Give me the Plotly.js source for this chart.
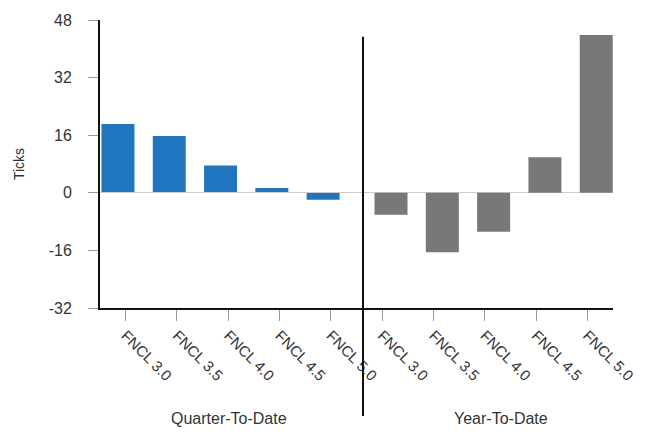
<!DOCTYPE html>
<html><head><meta charset="utf-8">
<script src="https://cdn.plot.ly/plotly-3.0.1.min.js"></script>
<style>html,body{margin:0;padding:0;background:#fff}#chart{width:650px;height:432px}</style>
</head><body><div id="chart"></div>
<script>
const bonds = ['FNCL 3.0', 'FNCL 3.5', 'FNCL 4.0', 'FNCL 4.5', 'FNCL 5.0'];
const qtdValues = [19.1, 15.8, 7.6, 1.3, -1.9];
const ytdValues = [-6.1, -16.5, -10.8, 9.9, 43.8];
const groupLabels = ['Quarter-To-Date', 'Year-To-Date'];
const yTicks = [-32, -16, 0, 16, 32, 48];
const yTickText = yTicks.map(String);
const tickLabels = bonds.concat(bonds);

const FONT = 'Liberation Sans, Arial, sans-serif';
const split = 263 / 513;

const traces = [
  {type: 'bar', x: bonds, y: qtdValues, xaxis: 'x', yaxis: 'y',
   marker: {color: '#1f76bf'}, hoverinfo: 'x+y', showlegend: false},
  {type: 'bar', x: bonds, y: ytdValues, xaxis: 'x3', yaxis: 'y',
   marker: {color: '#787878'}, hoverinfo: 'x+y', showlegend: false},
  {type: 'scatter', mode: 'markers', x: tickLabels.map((_, i) => i),
   y: tickLabels.map(() => null), xaxis: 'x2', yaxis: 'y',
   hoverinfo: 'skip', showlegend: false}
];

const hiddenX = {type: 'category', showline: false, showticklabels: false,
  ticks: '', showgrid: false, zeroline: false, anchor: 'y', fixedrange: true};

const layout = {
  width: 650, height: 432,
  margin: {l: 100, r: 37, t: 20, b: 124, pad: 0},
  paper_bgcolor: '#ffffff', plot_bgcolor: 'rgba(0,0,0,0)',
  font: {family: FONT, size: 14, color: '#333333'},
  bargap: 0.357,
  xaxis: Object.assign({}, hiddenX, {domain: [0, split], range: [-0.35, 4.777]}),
  xaxis3: Object.assign({}, hiddenX, {domain: [split, 1], range: [-0.546, 4.327]}),
  xaxis2: {type: 'linear', domain: [0, 1], anchor: 'y', range: [-0.5, 9.5],
    tickmode: 'array', tickvals: tickLabels.map((_, i) => i), ticktext: tickLabels,
    tickangle: 45, ticks: 'outside', ticklen: 11, tickcolor: '#999999', tickwidth: 1,
    showline: true, linecolor: '#111111', linewidth: 2, showgrid: false, zeroline: false,
    tickfont: {family: FONT, size: 15, color: '#333333'}, fixedrange: true},
  yaxis: {anchor: 'x', range: [-32, 48], tickmode: 'array', tickvals: yTicks, ticktext: yTickText,
    ticks: 'outside', ticklen: 10, tickcolor: '#999999', tickwidth: 1,
    showline: true, linecolor: '#111111', linewidth: 2, showgrid: false,
    zeroline: true, zerolinecolor: '#cccccc', zerolinewidth: 1,
    ticklabelstandoff: 13,
    tickfont: {family: FONT, size: 16, color: '#333333'},
    title: {text: 'Ticks', font: {family: FONT, size: 14, color: '#333333'}, standoff: 21},
    fixedrange: true},
  shapes: [{type: 'line', xref: 'paper', yref: 'paper', x0: split, x1: split,
    y0: -0.375, y1: 0.942, line: {color: '#111111', width: 2}}],
  annotations: [
    {text: groupLabels[0], xref: 'paper', yref: 'paper', x: 0.2515, y: -0.382,
     xanchor: 'center', yanchor: 'middle', showarrow: false,
     font: {family: FONT, size: 16, color: '#333333'}},
    {text: groupLabels[1], xref: 'paper', yref: 'paper', x: 0.7817, y: -0.382,
     xanchor: 'center', yanchor: 'middle', showarrow: false,
     font: {family: FONT, size: 16, color: '#333333'}}
  ]
};

Plotly.newPlot('chart', traces, layout, {displayModeBar: false, staticPlot: true});
</script>
</body></html>
